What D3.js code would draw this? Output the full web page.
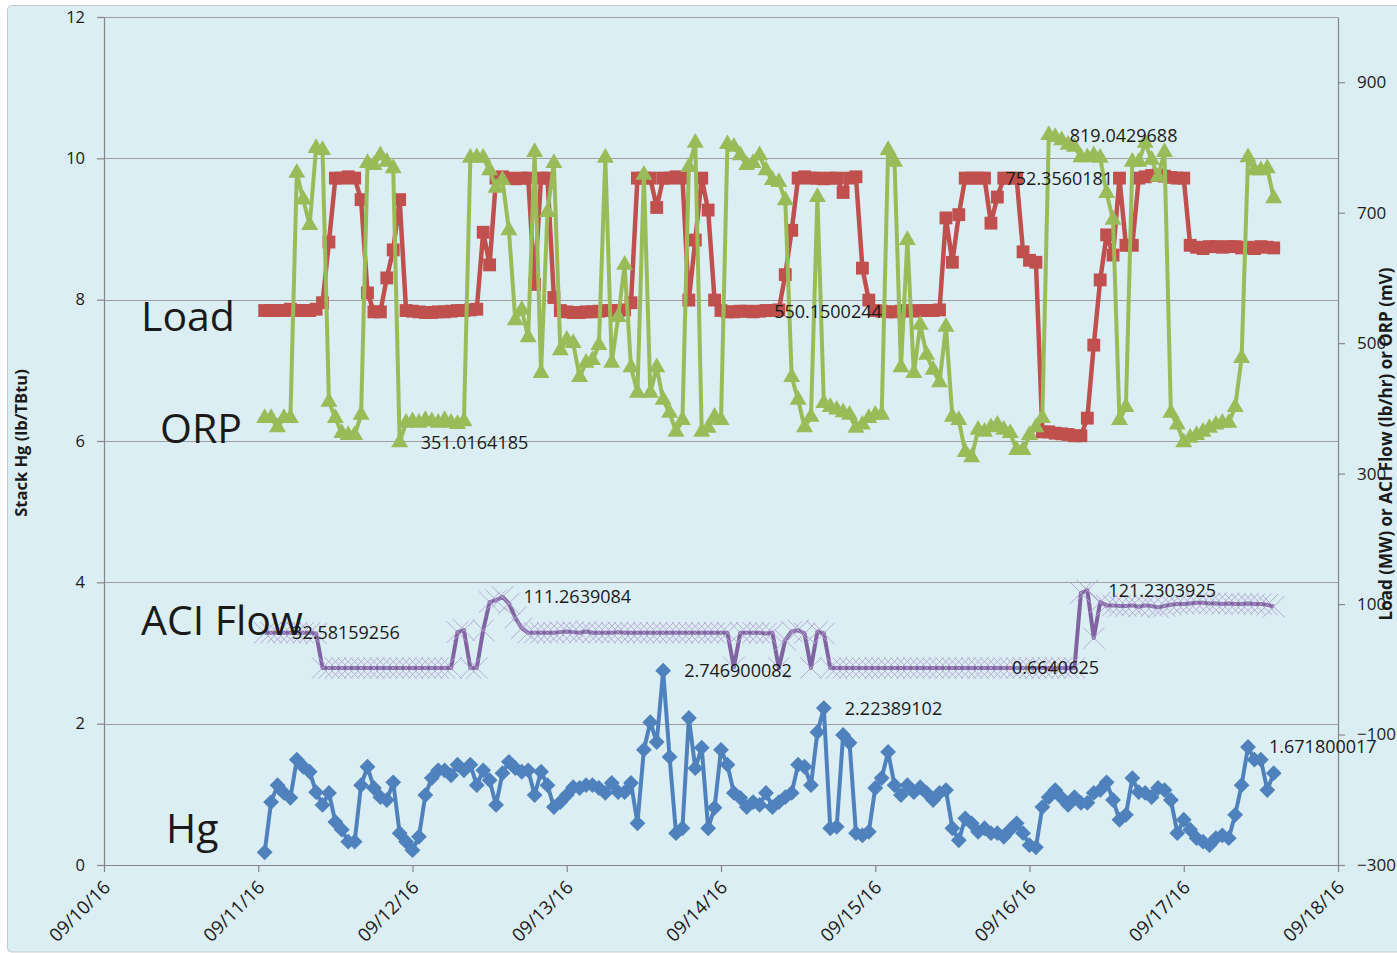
<!DOCTYPE html>
<html><head><meta charset="utf-8">
<script src="https://cdn.jsdelivr.net/npm/d3@7"></script>
<style>
body{margin:0;background:#fff;}
text{font-family:"Open Sans","Noto Sans",sans-serif;fill:#1a1a1a;}
</style>
</head><body>
<svg id="c" width="1397" height="953"></svg>
<script>
// ---------- data ----------
const startHour = new Date(2016, 8, 11, 1); // first hourly sample
const dateTickLabels = ["09/10/16","09/11/16","09/12/16","09/13/16","09/14/16","09/15/16","09/16/16","09/17/16","09/18/16"];
const leftTicks = [0,2,4,6,8,10,12];
const rightTicks = [-300,-100,100,300,500,700,900];

const hgValues = [0.18,0.89,1.13,1.02,0.95,1.49,1.39,1.32,1.03,0.85,
1.02,0.61,0.50,0.33,0.33,1.13,1.39,1.09,0.96,0.92,
1.17,0.45,0.33,0.21,0.40,0.99,1.23,1.34,1.34,1.27,
1.42,1.34,1.42,1.13,1.34,1.20,0.85,1.30,1.46,1.37,
1.32,1.34,0.99,1.32,1.13,0.82,0.89,0.99,1.10,1.09,
1.13,1.13,1.09,1.02,1.16,1.03,1.03,1.16,0.59,1.63,
2.02,1.74,2.75,1.53,0.45,0.52,2.08,1.37,1.66,0.52,
0.81,1.63,1.42,1.02,0.95,0.82,0.89,0.85,1.02,0.82,
0.89,0.96,1.02,1.42,1.39,1.13,1.88,2.22,0.52,0.54,
1.84,1.73,0.45,0.42,0.47,1.09,1.23,1.60,1.13,0.99,
1.13,1.03,1.10,1.02,0.92,1.02,1.06,0.52,0.35,0.66,
0.59,0.47,0.52,0.45,0.45,0.40,0.50,0.59,0.45,0.28,
0.25,0.82,0.96,1.06,0.95,0.85,0.96,0.88,0.88,1.02,
1.06,1.17,0.92,0.64,0.71,1.23,1.03,1.02,0.96,1.09,
1.06,0.92,0.45,0.64,0.50,0.38,0.33,0.28,0.38,0.42,
0.38,0.71,1.13,1.67,1.49,1.49,1.06,1.30];

const loadValues = [550,550,550,550,552,550,550,550,552,562,
655,753,753,755,753,720,577,548,548,600,
643,720,550,549,548,547,547,548,548,549,
550,550,551,552,670,620,753,755,753,752,
753,753,590,753,753,570,550,548,547,547,
548,548,549,550,550,550,551,562,753,753,
753,708,753,753,755,753,566,658,753,704,
566,550,548,548,549,549,548,549,550,550,
551,605,673,753,755,753,753,752,753,753,
731,753,755,615,566,550,549,548,548,549,
550,549,550,550,550,551,692,624,697,753,
753,753,753,684,724,753,753,753,640,627,
624,364,364,362,361,360,358,358,385,497,
597,666,635,753,650,650,753,755,757,758,
756,754,753,753,650,647,645,648,648,647,
648,648,646,647,645,648,647,646];

const orpValues = [385,385,371,385,385,761,720,681,799,796,
410,385,362,359,359,390,776,773,788,778,
768,348,378,380,378,382,380,378,382,378,
376,380,784,785,784,765,738,750,673,535,
551,509,793,454,701,776,489,505,500,448,
470,474,497,784,470,540,620,463,424,758,
424,463,413,393,364,382,770,807,364,370,
387,382,805,801,788,773,776,788,765,750,
747,719,448,413,371,387,724,408,402,398,
394,390,370,375,385,390,390,796,778,463,
658,454,528,482,459,440,525,387,382,333,
325,367,364,371,375,367,362,336,336,359,
371,385,819,816,811,804,801,785,785,788,
784,730,689,382,402,778,778,807,781,755,
793,393,375,348,355,359,364,370,375,378,
378,402,477,785,765,765,768,722];

const aciValues = [56,56,56,56,56,56,56,56,55,2,
2,2,2,2,2,2,2,2,2,2,
2,2,2,2,2,2,2,2,2,2,
57,60,2,2,60,103,106,111,101,79,
63,56,56,56,56,56,57,58,57,56,
58,56,56,56,56,57,56,56,56,56,
56,56,56,56,56,56,56,56,56,56,
56,56,56,3,56,56,56,56,55,56,
2,45,58,60,55,2,58,55,2,2,
2,2,2,2,2,2,2,2,2,2,
2,2,2,2,2,2,2,2,2,2,
2,2,2,2,2,2,2,2,2,2,
2,2,2,2,2,2,2,117,121,48,
103,98,98,97,97,98,96,98,97,95,
97,99,100,100,101,102,102,101,101,100,
101,100,100,101,100,100,99,96];

const dataLabels = [
  ["ACI", 1, "32.58159256"],
  ["ORP", 21, "351.0164185"],
  ["ACI", 37, "111.2639084"],
  ["Hg", 62, "2.746900082"],
  ["Load", 76, "550.1500244"],
  ["Hg", 87, "2.22389102"],
  ["Load", 112, "752.3560181"],
  ["ACI", 113, "0.6640625"],
  ["ORP", 122, "819.0429688"],
  ["ACI", 128, "121.2303925"],
  ["Hg", 153, "1.671800017"]
];

// ---------- drawing ----------
const svg = d3.select("#c");
const W = 1397, H = 953;
const L = 104, R = 1338, T = 17, B = 865;

const times = hgValues.map((_, i) => d3.timeHour.offset(startHour, i));
const x = d3.scaleTime().domain([new Date(2016,8,10), new Date(2016,8,18)]).range([L, R]);
const yL = d3.scaleLinear().domain([0, 12]).range([B, T]);
const yR = d3.scaleLinear().domain([-300, 1000]).range([B, T]);

// background
svg.append("rect").attr("width", W).attr("height", H).attr("fill", "#fff");
svg.append("rect").attr("x", 7.5).attr("y", 5.5).attr("width", W).attr("height", 946.5)
  .attr("rx", 4).attr("fill", "#daeef3").attr("stroke", "#c9c9c9").attr("stroke-width", 1);

// gridlines
svg.append("g").selectAll("line").data(leftTicks.filter(d => d > 0)).join("line")
  .attr("x1", L).attr("x2", R).attr("y1", d => Math.round(yL(d)) + 0.5).attr("y2", d => Math.round(yL(d)) + 0.5)
  .attr("stroke", "#9d9d9d").attr("stroke-width", 1.2);

// axes
const axL = svg.append("g").attr("transform", `translate(${L},0)`)
  .call(d3.axisLeft(yL).tickValues(leftTicks).tickSize(7).tickSizeOuter(0).tickPadding(12));
const axR = svg.append("g").attr("transform", `translate(${R},0)`)
  .call(d3.axisRight(yR).tickValues(rightTicks).tickSize(7).tickSizeOuter(0).tickPadding(12));
const dayTicks = dateTickLabels.map((_, i) => d3.timeDay.offset(new Date(2016,8,10), i));
const axB = svg.append("g").attr("transform", `translate(0,${B})`)
  .call(d3.axisBottom(x).tickValues(dayTicks).tickSize(7).tickSizeOuter(0).tickFormat(""));
[axL, axR, axB].forEach(g => {
  g.selectAll("path,line").attr("stroke", "#868686").attr("stroke-width", 1.2);
  g.selectAll("text").attr("fill", "#1a1a1a")
    .style("font-family", '"Open Sans","Noto Sans",sans-serif');
});
axL.selectAll("text").style("font-size", "16.5px");
axR.selectAll("text").style("font-size", "17px");
svg.append("g").selectAll("text").data(dayTicks).join("text")
  .attr("transform", (d) => `translate(${x(d) + 3},${B + 19}) rotate(-45)`)
  .attr("text-anchor", "end").attr("dy", "0.35em")
  .style("font-size", "18.5px")
  .text((d, i) => dateTickLabels[i]);

// axis titles
svg.append("text").attr("transform", `translate(27,443) rotate(-90)`)
  .attr("text-anchor", "middle").style("font-size", "16.5px").style("font-weight", "bold")
  .text("Stack Hg (lb/TBtu)");
svg.append("text").attr("transform", `translate(1392,444) rotate(-90)`)
  .attr("text-anchor", "middle").style("font-size", "17px").style("font-weight", "bold")
  .text("Load (MW) or ACI Flow (lb/hr) or ORP (mV)");

// series
const series = {
  Hg:   {vals: hgValues,   y: yL, color: "#4f81bd"},
  Load: {vals: loadValues, y: yR, color: "#c0504d"},
  ORP:  {vals: orpValues,  y: yR, color: "#9bbb59"},
  ACI:  {vals: aciValues,  y: yR, color: "#8064a2"}
};
const plot = svg.append("g");
function drawLine(s, w) {
  const line = d3.line().x((d, i) => x(times[i])).y(d => s.y(d));
  plot.append("path").datum(s.vals).attr("d", line).attr("fill", "none")
    .attr("stroke", s.color).attr("stroke-width", w).attr("stroke-linejoin", "round");
}
// Hg
drawLine(series.Hg, 4);
plot.append("g").selectAll("path").data(hgValues).join("path")
  .attr("transform", (d, i) => `translate(${x(times[i])},${yL(d)}) rotate(45)`)
  .attr("d", d3.symbol(d3.symbolSquare, 125)).attr("fill", "#4f81bd");
// Load
drawLine(series.Load, 4.5);
plot.append("g").selectAll("path").data(loadValues).join("path")
  .attr("transform", (d, i) => `translate(${x(times[i])},${yR(d)})`)
  .attr("d", d3.symbol(d3.symbolSquare, 165)).attr("fill", "#c0504d");
// ORP
drawLine(series.ORP, 4);
plot.append("g").selectAll("path").data(orpValues).join("path")
  .attr("transform", (d, i) => `translate(${x(times[i])},${yR(d)})`)
  .attr("d", d3.symbol(d3.symbolTriangle, 125)).attr("fill", "#9bbb59");
// ACI
drawLine(series.ACI, 4);
plot.append("g").selectAll("path").data(aciValues).join("path")
  .attr("transform", (d, i) => `translate(${x(times[i])},${yR(d)})`)
  .attr("d", d3.symbol(d3.symbolX, 300)).attr("fill", "none")
  .attr("stroke", "#b3a3d0").attr("stroke-width", 0.9);

// data labels
svg.append("g").selectAll("text").data(dataLabels).join("text")
  .attr("x", d => x(times[d[1]]) + 21)
  .attr("y", d => series[d[0]].y(series[d[0]].vals[d[1]]))
  .attr("dy", "0.36em").style("font-size", "18px")
  .text(d => d[2]);

// series name annotations
const tags = [["Load", 141, 331], ["ORP", 160, 443], ["ACI Flow", 141, 635], ["Hg", 166, 843]];
svg.append("g").selectAll("text").data(tags).join("text")
  .attr("x", d => d[1]).attr("y", d => d[2])
  .style("font-size", "41px").attr("fill", "#000").text(d => d[0]);
</script>
</body></html>
